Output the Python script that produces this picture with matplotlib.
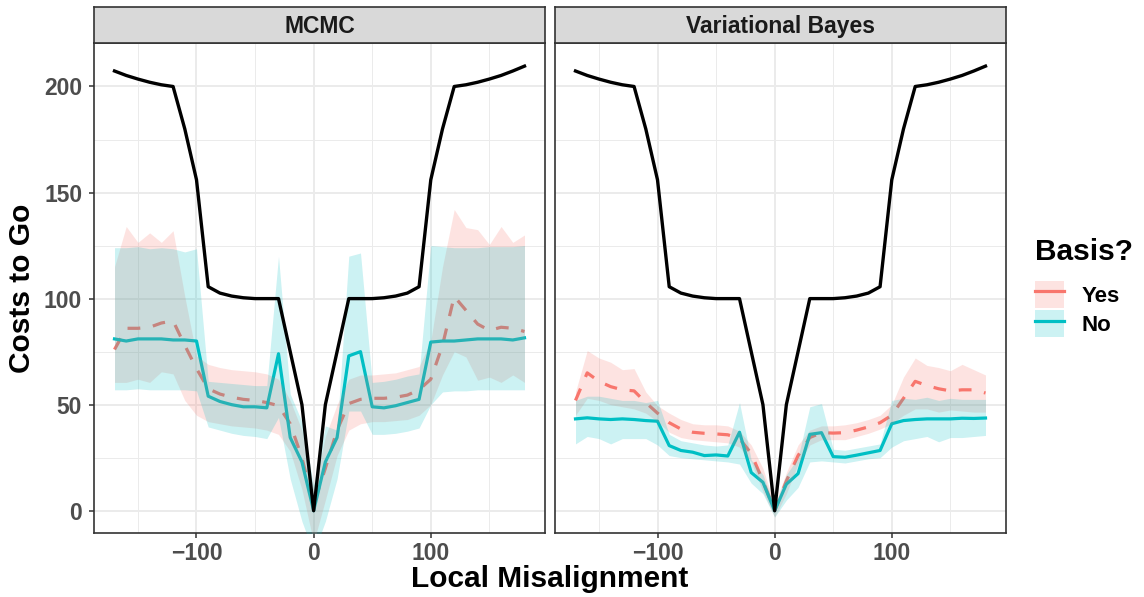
import numpy as np
import matplotlib
matplotlib.use("Agg")
import matplotlib.pyplot as plt
from matplotlib.patches import Patch
from matplotlib.lines import Line2D

plt.rcParams['font.family'] = ['Liberation Sans', 'DejaVu Sans']
plt.rcParams['font.weight'] = 'bold'

# misalignment grid (shared by every series)
x = [-170, -160, -150, -140, -130, -120, -110, -100, -90, -80, -70, -60,
     -50, -40, -30, -20, -10, 0, 10, 20, 30, 40, 50, 60, 70, 80, 90, 100,
     110, 120, 130, 140, 150, 160, 170, 180]

# true costs to go (black line)
truth = [207.3, 205.2, 203.5, 202, 200.8, 200, 180, 156, 105.6, 102.6, 101.2,
         100.4, 100, 100, 100, 75, 50, 0, 50, 75, 100, 100, 100, 100.4, 101.2,
         102.6, 105.6, 156, 180, 200, 200.8, 202, 203.5, 205.2, 207.3, 209.6]

# MCMC, basis = Yes
mcmc_yes = [76, 86, 86, 86.5, 88.5, 89.5, 78, 67, 57.5, 55, 53.5, 52.5, 52, 51,
            49.5, 41, 25, 3, 20, 38, 50.5, 52.5, 53, 53, 53.5, 54.5, 57, 62,
            78, 101, 94.5, 88, 85, 86.5, 86, 84.5]
mcmc_yes_hi = [115, 134, 126.5, 131, 126.5, 132, 101, 73, 69, 67.5, 66.5, 66,
               65.5, 64.5, 62, 52, 38, 10, 35, 50, 62, 64, 64, 64.5, 65, 66.5,
               68, 80, 115, 142, 133.5, 132.5, 125.5, 134, 126.5, 130]
mcmc_yes_lo = [60.5, 60.5, 62, 60.5, 65.5, 64.5, 52, 45, 42, 41, 40, 39.5, 39,
               38, 36, 28, 10, -15, 5, 26, 38, 41, 42, 42, 42.5, 43, 45, 50, 64,
               75, 72.5, 61.5, 63, 60.5, 64, 60.5]

# MCMC, basis = No
mcmc_no = [81, 80, 81, 81, 81, 80.5, 80.5, 80, 54, 51.5, 50, 49, 49, 48.5, 74,
           34.5, 23, 0, 23, 34.5, 73, 75, 49, 48.5, 49.5, 51, 52.5, 79.5, 80,
           80, 80.5, 81, 81, 81, 80.5, 81.5]
mcmc_no_hi = [124, 124, 124.5, 123.5, 124, 123.5, 122, 123.5, 61, 60.5, 60,
              59.5, 59, 59, 120, 55, 42, 12, 40, 38, 120, 121.5, 60.5, 61, 62,
              63.5, 64.5, 125, 124.5, 124, 124, 124, 124.5, 124.5, 124.5, 125]
mcmc_no_lo = [57, 57, 57.5, 57, 57, 57, 57, 56.5, 39.5, 38, 36.5, 35.5, 35, 34,
              44, 15, -5, -20, -5, 15, 47, 47, 36, 36, 36.5, 37.5, 39, 50, 56,
              56.5, 56.5, 57, 57, 57, 57, 57]

# Variational Bayes, basis = Yes
vb_yes = [52, 65, 61, 58.5, 57, 56.5, 51, 46, 41.5, 38.5, 37, 36.5, 36.2, 35.8,
          34, 27, 14, 0, 14, 26, 34.5, 36.8, 36.6, 36.8, 38, 39.5, 41.5, 45, 53,
          61, 59, 57.5, 56.5, 57, 57, 55.5]
vb_yes_hi = [56, 75.5, 72, 70, 66.5, 67, 56, 49.5, 46, 43, 41, 40.5, 40.5, 40,
             37.5, 31, 20, 3, 18, 31, 38, 40, 40, 40.5, 41.5, 43, 45, 50, 63, 72,
             68.5, 67.5, 66, 69, 66.5, 64]
vb_yes_lo = [45, 53, 52, 50, 49, 48, 46, 42, 37, 34.5, 33.5, 33, 32.5, 32, 30,
             23, 9, -3, 8, 22, 31, 33.5, 33.5, 33.5, 35, 36.5, 38.5, 41, 45, 48,
             48, 46.5, 47.5, 47, 46.5, 46.5]

# Variational Bayes, basis = No
vb_no = [43.3, 43.8, 43.3, 43, 43.3, 43, 42.5, 42.2, 30.7, 28.4, 27.6, 26, 26.3,
         25.8, 37, 18, 13.4, 0, 12.5, 17.5, 36, 36.8, 25.5, 25.2, 26.2, 27.3,
         28.4, 41, 42.5, 43, 43.3, 43.3, 43.3, 43.6, 43.5, 43.7]
vb_no_hi = [52, 54, 54, 53, 52, 52, 51, 52, 36, 33, 32, 31, 30.5, 31, 51, 24, 17,
            2, 17, 25, 49, 50.5, 29, 28.5, 29.5, 30.5, 31.5, 52, 53, 52.5, 53.5,
            52, 53, 52.5, 52.5, 52.5]
vb_no_lo = [31.5, 35, 34, 31.5, 34, 34, 34, 31, 26, 25, 24.5, 24, 23.5, 23, 22,
            13, 8, -3, 5, 11, 23, 23.5, 23, 22.5, 23.5, 24.5, 25, 30, 33, 34, 35,
            32.5, 34.5, 34.5, 35, 35.5]

panels = [
    ("MCMC", (mcmc_yes, mcmc_yes_lo, mcmc_yes_hi), (mcmc_no, mcmc_no_lo, mcmc_no_hi)),
    ("Variational Bayes", (vb_yes, vb_yes_lo, vb_yes_hi), (vb_no, vb_no_lo, vb_no_hi)),
]

RED = '#F8766D'
TEAL = '#00BFC4'
DARK = '#333333'
GRID = '#EBEBEB'
TICKC = '#4D4D4D'

W, H = 1144, 597
fig = plt.figure(figsize=(W / 100, H / 100), dpi=100)

lefts = [94, 555]
pw = 451
top, bot = 43, 533

for i, (name, yes, no) in enumerate(panels):
    ax = fig.add_axes([lefts[i] / W, 1 - bot / H, pw / W, (bot - top) / H])
    ax.set_xlim(-187.5, 197.5)
    ax.set_ylim(-10.5, 220.5)

    ax.set_xticks([-100, 0, 100])
    ax.set_xticks([-150, -50, 50, 150], minor=True)
    ax.set_yticks([0, 50, 100, 150, 200])
    ax.set_yticks([25, 75, 125, 175], minor=True)
    ax.grid(True, which='major', color=GRID, lw=1.4)
    ax.grid(True, which='minor', color=GRID, lw=0.7)
    ax.set_axisbelow(True)
    ax.tick_params(which='minor', length=0)
    ax.tick_params(which='major', length=3.5, width=1.1, color=DARK,
                   labelsize=16.5, labelcolor=TICKC, pad=3)
    ax.set_xticklabels(['\u2212100', '0', '100'])
    if i == 0:
        ax.set_yticklabels(['0', '50', '100', '150', '200'])
        ax.tick_params(axis='y', pad=5)
    else:
        ax.tick_params(axis='y', labelleft=False, length=0)
    for s in ax.spines.values():
        s.set_color(DARK)
        s.set_linewidth(1.2)

    ax.plot(x, yes[0], color=RED, lw=2.3, ls=(0, (4, 4)), zorder=2)
    ax.plot(x, no[0], color=TEAL, lw=2.3, zorder=2)
    ax.fill_between(x, yes[1], yes[2], color=RED, alpha=0.2, lw=0, zorder=3)
    ax.fill_between(x, no[1], no[2], color=TEAL, alpha=0.2, lw=0, zorder=3)
    ax.plot(x, truth, color='black', lw=2.4, zorder=4)

    # facet strip
    sax = fig.add_axes([lefts[i] / W, 1 - top / H, pw / W, 36 / H])
    sax.set_facecolor('#D9D9D9')
    sax.set_xticks([])
    sax.set_yticks([])
    for s in sax.spines.values():
        s.set_color(DARK)
        s.set_linewidth(1.2)
    sax.text(0.5, 0.47, name, ha='center', va='center', fontsize=16.5,
             fontweight='bold', color='#1A1A1A', transform=sax.transAxes)

fig.text(22 / W, 1 - 288 / H, 'Costs to Go', rotation=90, ha='center',
         va='center', fontsize=21.5, fontweight='bold')
fig.text(550 / W, 1 - 579 / H, 'Local Misalignment', ha='center',
         va='center', fontsize=21.5, fontweight='bold')

# legend
fig.text(1035 / W, 1 - 252 / H, 'Basis?', ha='left', va='center',
         fontsize=21.5, fontweight='bold')
handles = [
    (Patch(facecolor=RED, alpha=0.2, lw=0), Line2D([], [], color=RED, lw=2.3)),
    (Patch(facecolor=TEAL, alpha=0.2, lw=0), Line2D([], [], color=TEAL, lw=2.3)),
]
leg = fig.legend(handles, ['Yes', 'No'], loc='upper left',
                 bbox_to_anchor=(1035 / W, 1 - 281 / H), frameon=False,
                 fontsize=16, borderpad=0, borderaxespad=0, handlelength=1.3,
                 handleheight=1.5, handletextpad=0.8, labelspacing=0.1)
for t in leg.get_texts():
    t.set_fontweight('bold')

fig.savefig('out.png', dpi=100)
